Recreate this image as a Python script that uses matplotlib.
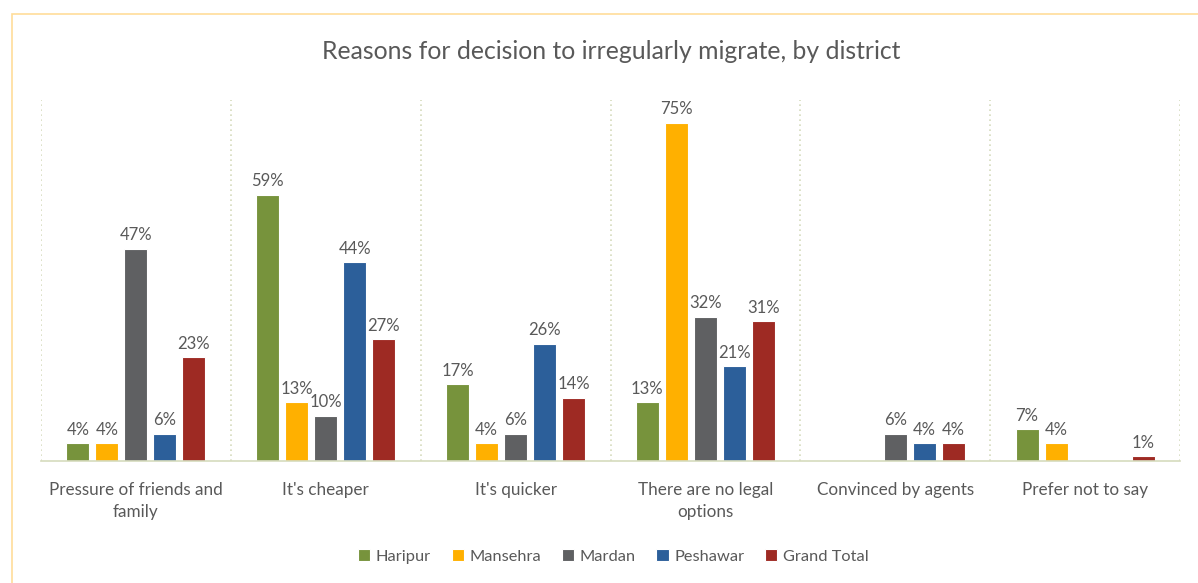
import numpy as np
import matplotlib
matplotlib.use("Agg")
import matplotlib.pyplot as plt
from matplotlib.patches import Rectangle

plt.rcParams['font.family'] = ['Lato', 'DejaVu Sans']

categories = ["Pressure of friends and\nfamily", "It's cheaper", "It's quicker",
              "There are no legal\noptions", "Convinced by agents", "Prefer not to say"]
haripur = [4, 59, 17, 13, np.nan, 7]
mansehra = [4, 13, 4, 75, np.nan, 4]
mardan = [47, 10, 6, 32, 6, np.nan]
peshawar = [6, 44, 26, 21, 4, np.nan]
grand_total = [23, 27, 14, 31, 4, 1]

series = ["Haripur", "Mansehra", "Mardan", "Peshawar", "Grand Total"]
values = [haripur, mansehra, mardan, peshawar, grand_total]
colors = ["#77933C", "#FFB000", "#5F6062", "#2C5F9A", "#9E2A23"]

text_col = "#595959"

fig = plt.figure(figsize=(11.98, 5.83), dpi=100)
ax = fig.add_axes([0.0342, 0.2093, 0.9508, 0.6192])

# chart border
fig.patches.append(Rectangle((12 / 1198, -0.1), 1.2, 1 - 14 / 583 + 0.1,
                             transform=fig.transFigure, fill=False,
                             edgecolor="#FFDD99", linewidth=1.2))

x = np.arange(len(categories))
step = 0.153
width = 0.121
for i, (name, vals, c) in enumerate(zip(series, values, colors)):
    pos = x + (i - 2) * step
    bars = ax.bar(pos, vals, width, color=c, label=name, edgecolor="white", linewidth=0.8)
    for p, v in zip(pos, vals):
        if not np.isnan(v):
            ax.text(p, v + 1.2, f"{v:g}%", ha="center", va="bottom",
                    fontsize=12, color=text_col)

for b in np.arange(-0.5, len(categories), 1.0):
    ax.axvline(b, color="#D6DBBE", linestyle=(0, (1, 2)), linewidth=1.2, zorder=0)

ax.set_xlim(-0.5, len(categories) - 0.5)
ax.set_ylim(0, 80)
ax.set_yticks([])
ax.set_xticks(x)
ax.set_xticklabels(categories, fontsize=12.3, color=text_col, linespacing=1.45)
ax.tick_params(axis="x", length=0, pad=15)
for s in ["top", "right", "left"]:
    ax.spines[s].set_visible(False)
ax.spines["bottom"].set_color("#D6DBBE")
ax.spines["bottom"].set_linewidth(1.2)

fig.text(0.51, 0.912, "Reasons for decision to irregularly migrate, by district",
         ha="center", va="center", fontsize=17.8, color=text_col)

leg = fig.legend(loc="center", bbox_to_anchor=(0.512, 0.045), ncol=5, frameon=False,
                 fontsize=11.8, handlelength=0.75, handleheight=0.75, handletextpad=0.35,
                 columnspacing=1.25, labelcolor=text_col)

fig.savefig("out.png", dpi=100)
